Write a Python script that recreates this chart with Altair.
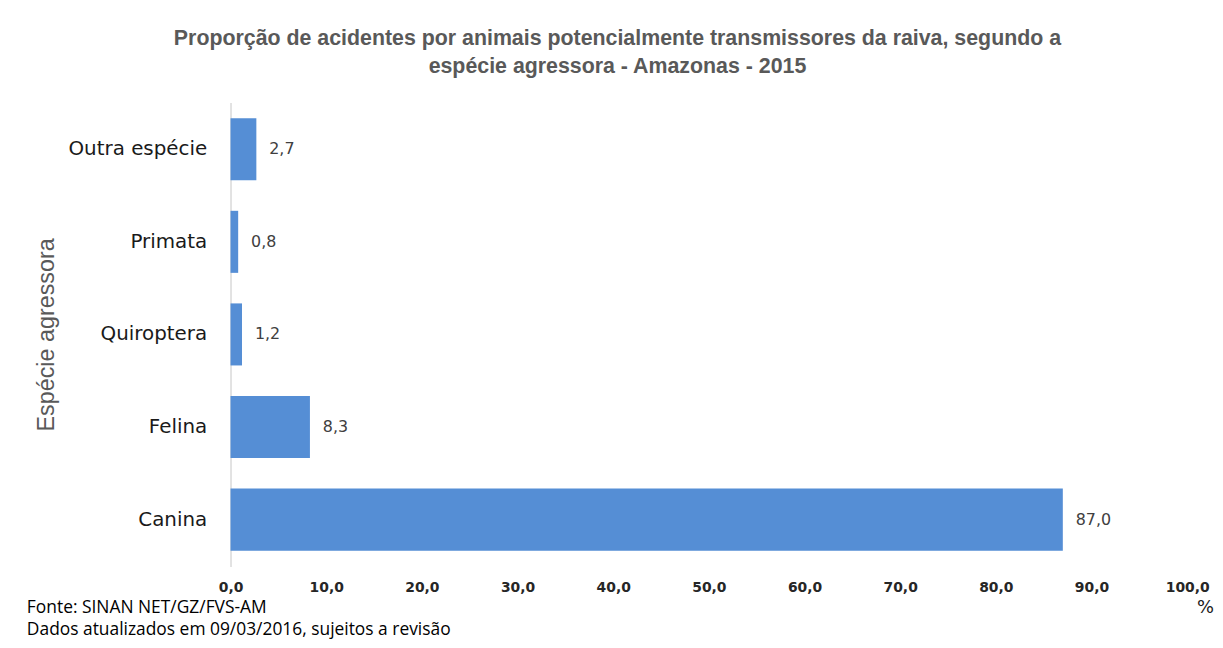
import altair as alt
import pandas as pd

categories = ["Outra espécie", "Primata", "Quiroptera", "Felina", "Canina"]
values = [2.7, 0.8, 1.2, 8.3, 87.0]
x_ticks = [0, 10, 20, 30, 40, 50, 60, 70, 80, 90, 100]
title_lines = ["Proporção de acidentes por animais potencialmente transmissores da raiva, segundo a",
               "espécie agressora - Amazonas - 2015"]
footer_lines = ["Fonte: SINAN NET/GZ/FVS-AM", "Dados atualizados em 09/03/2016, sujeitos a revisão"]

df = pd.DataFrame({"especie": categories, "valor": values})
df["rotulo"] = [f"{v:.1f}".replace(".", ",") for v in values]

W, H = 963, 467

base = alt.Chart(df)

bars = base.mark_bar(color="#558ed5").encode(
    y=alt.Y("especie:N", sort=categories,
            scale=alt.Scale(paddingInner=0.33, paddingOuter=0.17),
            axis=alt.Axis(title="Espécie agressora", titleAngle=-90, titleX=-185, titleY=H / 2,
                          titleAlign="center", titleBaseline="middle",
                          titleFont="Liberation Sans", titleFontSize=23.5, titleFontWeight="normal",
                          titleColor="#595959",
                          labelFont="DejaVu Sans", labelFontSize=20, labelColor="#1a1a1a",
                          labelPadding=24, ticks=False, domainColor="#d9d9d9", domainWidth=1.5)),
    x=alt.X("valor:Q", scale=alt.Scale(domain=[0, 100], nice=False),
            axis=alt.Axis(values=x_ticks, title="%", titleX=W + 18, titleY=32,
                          titleFont="DejaVu Sans", titleFontSize=18, titleFontWeight="normal",
                          titleColor="#1a1a1a", titleAlign="center",
                          labelExpr="replace(format(datum.value, '.1f'), '.', ',')",
                          labelFont="DejaVu Sans", labelFontSize=14, labelFontWeight="bold",
                          labelColor="#262626", labelPadding=14, labelFlush=False,
                          ticks=False, domain=False, grid=False)),
)

labels = base.mark_text(align="left", baseline="middle", dx=13, font="DejaVu Sans",
                        fontSize=16, color="#404040").encode(
    y=alt.Y("especie:N", sort=categories),
    x=alt.X("valor:Q"),
    text="rotulo:N",
)

footer_df = pd.DataFrame({"linha": footer_lines, "ordem": [0, 1]})
footer = alt.Chart(footer_df).mark_text(align="left", baseline="middle", font="Open Sans",
                                         fontSize=17.5, color="#000000").encode(
    x=alt.value(-205),
    y=alt.value(H + 42),
    text="linha:N",
).transform_filter("datum.ordem == 0")

footer2 = alt.Chart(footer_df).mark_text(align="left", baseline="middle", font="Open Sans",
                                          fontSize=17.5, color="#000000").encode(
    x=alt.value(-205),
    y=alt.value(H + 64),
    text="linha:N",
).transform_filter("datum.ordem == 1")

chart = alt.layer(bars, labels, footer, footer2).properties(
    width=W, height=H,
    title=alt.TitleParams(text=title_lines, anchor="middle", dx=-92, dy=-7, offset=18,
                          font="Liberation Sans", fontSize=21.5, fontWeight="bold",
                          color="#595959", lineHeight=28),
    autosize=alt.AutoSizeParams(type="none"),
    padding={"left": 224, "top": 93, "right": 28, "bottom": 72},
).configure(background="white").configure_view(stroke=None, strokeWidth=0)

chart.save("out.html", embed_options={"renderer": "svg", "actions": False})
